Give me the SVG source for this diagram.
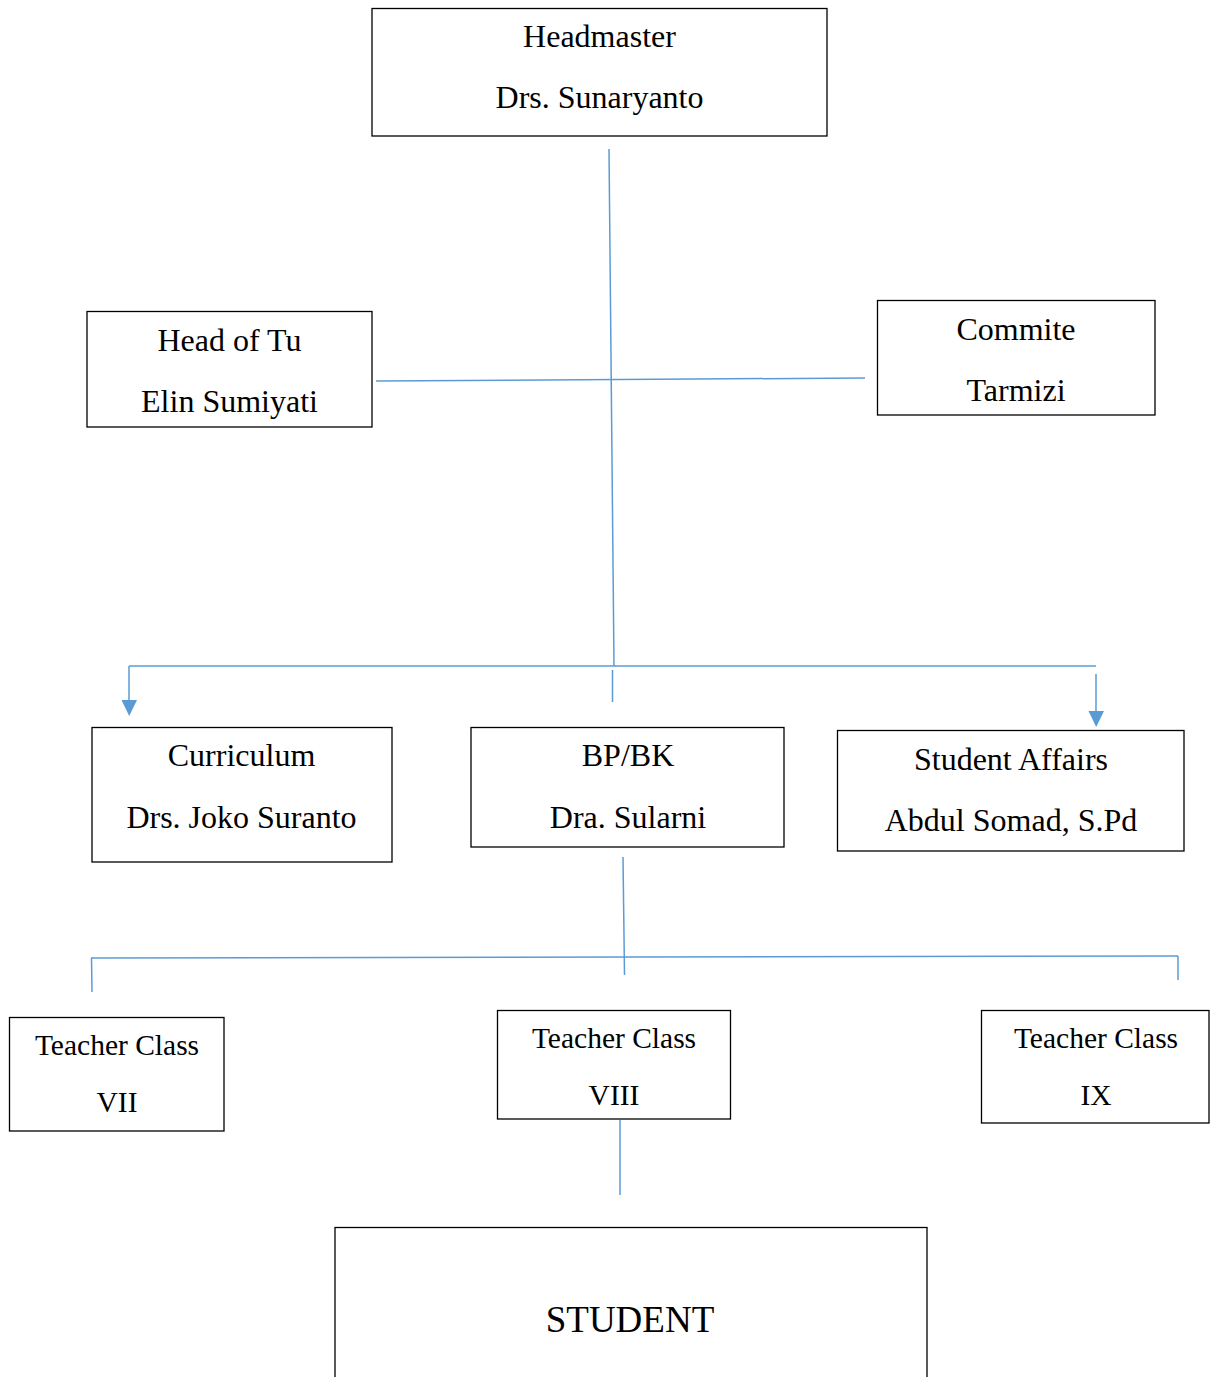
<svg xmlns="http://www.w3.org/2000/svg" width="1210" height="1377" viewBox="0 0 1210 1377">
<style>
.box{fill:#fff;stroke:#000;stroke-width:1.3}
.t{font-family:"Liberation Serif","Times New Roman",serif;font-size:32px;fill:#000;text-anchor:middle}
.s{font-size:29.5px}
.c{fill:none;stroke:#5B9BD5;stroke-width:1.5}
</style>
<g id="connectors">
<line class="c" x1="609" y1="149" x2="614" y2="666"/>
<line class="c" x1="376" y1="381" x2="865" y2="378"/>
<line class="c" x1="129" y1="666" x2="1096" y2="666"/>
<line class="c" x1="129" y1="666" x2="129" y2="702"/>
<path d="M121.5,700 L137,700 L129.2,716 Z" fill="#5B9BD5"/>
<line class="c" x1="1096" y1="674" x2="1096" y2="712"/>
<path d="M1088.5,711 L1104,711 L1096.2,727 Z" fill="#5B9BD5"/>
<line class="c" x1="612.5" y1="670" x2="612.5" y2="702"/>
<line class="c" x1="623" y1="857" x2="624.5" y2="975"/>
<line class="c" x1="91" y1="958" x2="1178" y2="956"/>
<line class="c" x1="91.5" y1="958" x2="92" y2="992"/>
<line class="c" x1="1178" y1="956" x2="1178" y2="980"/>
<line class="c" x1="620" y1="1120" x2="620" y2="1195"/>
</g>
<g id="headmaster">
<rect class="box" x="372" y="8.5" width="455" height="127.5"/>
<text class="t" x="599.5" y="47">Headmaster</text>
<text class="t" x="599.5" y="108">Drs. Sunaryanto</text>
</g>
<g id="head-of-tu">
<rect class="box" x="87" y="311.5" width="285" height="115.5"/>
<text class="t" x="229.5" y="351">Head of Tu</text>
<text class="t" x="229.5" y="412">Elin Sumiyati</text>
</g>
<g id="commite">
<rect class="box" x="877.5" y="300.5" width="277.5" height="114.5"/>
<text class="t" x="1016" y="340">Commite</text>
<text class="t" x="1016" y="401">Tarmizi</text>
</g>
<g id="curriculum">
<rect class="box" x="92" y="727.5" width="300" height="134.5"/>
<text class="t" x="241.5" y="766">Curriculum</text>
<text class="t" x="241.5" y="828">Drs. Joko Suranto</text>
</g>
<g id="bpbk">
<rect class="box" x="471" y="727.5" width="313" height="119.5"/>
<text class="t" x="628" y="766">BP/BK</text>
<text class="t" x="628" y="828">Dra. Sularni</text>
</g>
<g id="student-affairs">
<rect class="box" x="837.5" y="730.5" width="346.5" height="120.5"/>
<text class="t" x="1011" y="770">Student Affairs</text>
<text class="t" x="1011" y="831">Abdul Somad, S.Pd</text>
</g>
<g id="teacher-vii">
<rect class="box" x="9.5" y="1017.5" width="214.5" height="113.5"/>
<text class="t s" x="117" y="1055">Teacher Class</text>
<text class="t s" x="117" y="1112">VII</text>
</g>
<g id="teacher-viii">
<rect class="box" x="497.5" y="1010.5" width="233" height="108.5"/>
<text class="t s" x="614" y="1048">Teacher Class</text>
<text class="t s" x="614" y="1105">VIII</text>
</g>
<g id="teacher-ix">
<rect class="box" x="981.5" y="1010.5" width="227.5" height="112.5"/>
<text class="t s" x="1096" y="1048">Teacher Class</text>
<text class="t s" x="1096" y="1105">IX</text>
</g>
<g id="student">
<rect class="box" x="335" y="1227.5" width="592" height="160"/>
<text class="t" x="630" y="1332" style="font-size:37px">STUDENT</text>
</g>
</svg>
